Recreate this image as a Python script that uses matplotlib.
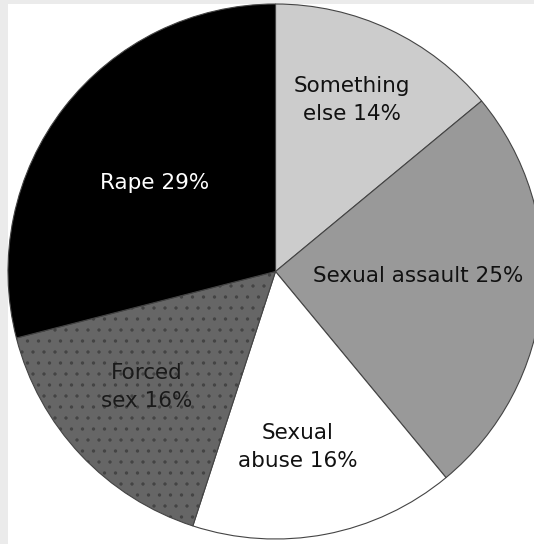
import matplotlib
matplotlib.use("Agg")
import matplotlib.pyplot as plt
from matplotlib.patches import Rectangle

categories = ["Something else", "Sexual assault", "Sexual abuse", "Forced sex", "Rape"]
values = [14, 25, 16, 16, 29]
label_texts = ["Something\nelse 14%", "Sexual assault 25%", "Sexual\nabuse 16%", "Forced\nsex 16%", "Rape 29%"]
colors = ["#cccccc", "#999999", "#ffffff", "#666666", "#000000"]
text_colors = ["#111111", "#111111", "#111111", "#1a1a1a", "#ffffff"]
label_pos = [(352, 100), (418, 276), (298, 447), (147, 387), (155, 183)]

W, H = 534, 544
DPI = 66
S = 100 / DPI  # point scale so sizes look as at 100 dpi
fig = plt.figure(figsize=(W / DPI, H / DPI), dpi=DPI)
fig.patch.set_facecolor("#ebebeb")
ax = fig.add_axes([0, 0, 1, 1])

ax.add_patch(Rectangle((8, 4), W, H, facecolor="white", edgecolor="none", zorder=0))

plt.rcParams["hatch.color"] = "#333333"
plt.rcParams["hatch.linewidth"] = 0.8 * S

wedges, _ = ax.pie(values, colors=colors, startangle=-90, counterclock=True,
                   center=(275.5, 271.5), radius=267.5, frame=True,
                   wedgeprops=dict(edgecolor="#444444", linewidth=0.8 * S))
ax.set_xlim(0, W)
ax.set_ylim(H, 0)
ax.set_aspect("equal")
ax.axis("off")
for w in wedges:
    w.set_zorder(1)
wedges[3].set_hatch(".")

for txt, (x, y), c in zip(label_texts, label_pos, text_colors):
    ax.text(x, y, txt, ha="center", va="center", multialignment="center",
            fontsize=15.5 * S, color=c, family="DejaVu Sans", linespacing=1.55, zorder=5)

fig.savefig("out.png", dpi=DPI, facecolor=fig.get_facecolor())
